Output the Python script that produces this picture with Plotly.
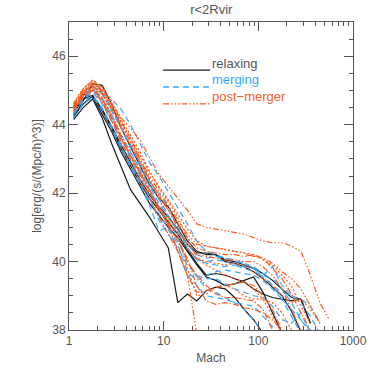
import plotly.graph_objects as go

# Mach bins (0.1 dex, centred)
mach = [1.12, 1.41, 1.78, 2.24, 2.82, 3.55, 4.47, 5.62, 7.08, 8.91, 11.2, 14.1,
        17.8, 22.4, 28.2, 35.5, 44.7, 56.2, 70.8, 89.1, 112, 141, 178, 224,
        282, 355, 447, 562]

# relaxing clusters
relax_1 = [44.2, 44.7, 45.2, 45.15, 44.6, 43.9, 43.35, 42.8, 42.25, 41.85, 41.6, 41.1,
           40.6, 40.3, 40.2, 40.2, 40.05, 40.0, 39.9, 39.8, 39.65, 39.45, 39.2, 38.95, 38.9, 38.2]
relax_2 = [44.15, 44.5, 44.75, 44.2, 43.45, 42.75, 42.1, 41.7, 41.3, 40.85, 40.4, 38.8,
           39.05, 38.85, 39.15, 39.25, 39.2, 38.95, 38.6, 38.3, 37.9]
relax_3 = [44.25, 44.6, 44.85, 44.4, 43.9, 43.3, 42.8, 42.3, 41.85, 41.5, 41.15, 40.8,
           40.35, 39.95, 39.6, 39.65, 39.6, 39.5, 39.4, 39.2, 39.05, 38.95, 38.9, 38.85, 38.9, 38.2]
relax_4 = [44.3, 44.9, 44.8, 44.3, 43.8, 43.2, 42.7, 42.2, 41.7, 41.35, 41.0, 40.7,
           40.3, 39.9, 39.55, 39.45, 39.3, 39.35, 39.45, 39.55, 39.1, 38.5, 37.9]
relax_5 = [44.35, 44.75, 44.85, 44.45, 43.95, 43.4, 42.9, 42.4, 41.95, 41.6, 41.3, 40.95,
           40.5, 40.25, 40.25, 40.2, 40.0, 39.95, 39.85, 39.7, 39.5, 39.25, 39.0, 38.55, 37.95]

# merging clusters
merg_1 = [44.4, 44.8, 45.1, 44.95, 44.5, 43.9, 43.3, 42.8, 42.2, 41.7, 41.3, 40.9, 40.5,
          40.2, 40.1, 40.15, 40.1, 40.0, 39.95, 39.85, 39.65, 39.3, 38.9, 38.4, 37.9]
merg_2 = [44.5, 44.85, 45.0, 44.95, 44.75, 44.45, 44.0, 43.45, 42.9, 42.5, 42.05, 41.6,
          41.1, 40.6, 40.3, 40.2, 40.1, 40.05, 39.95, 39.8, 39.6, 39.85, 39.3, 39.0, 38.8, 38.4, 37.9]
merg_3 = [44.35, 44.75, 44.95, 44.6, 44.1, 43.5, 43.0, 42.5, 41.9, 41.2, 40.8, 40.4, 39.9,
          39.6, 39.5, 39.5, 39.35, 39.2, 39.1, 39.0, 38.95, 38.7, 38.3, 38.2, 38.5, 37.9]
merg_4 = [44.45, 44.9, 45.05, 44.7, 44.2, 43.6, 43.05, 42.6, 42.1, 41.6, 41.2, 40.7, 40.0,
          39.55, 39.2, 39.1, 38.95, 38.8, 38.6, 38.3, 37.9]
merg_5 = [44.3, 44.7, 44.85, 44.5, 43.95, 43.35, 42.8, 42.3, 41.65, 40.9, 41.0, 40.5, 39.7,
          39.45, 39.6, 39.7, 39.75, 39.7, 39.65, 39.6, 39.45, 39.2, 38.9, 38.6, 38.3, 38.0]
merg_6 = [44.5, 44.95, 45.15, 44.9, 44.4, 43.9, 43.4, 42.9, 42.35, 41.85, 41.35, 40.9, 40.4,
          40.05, 39.95, 39.9, 39.85, 39.9, 39.85, 39.8, 39.55, 39.3, 39.1, 39.0, 38.9, 38.7, 38.2]
merg_7 = [44.2, 44.6, 44.8, 44.45, 43.9, 43.3, 42.75, 42.25, 41.75, 41.4, 40.95, 40.3, 39.6,
          39.3, 39.0, 38.95, 38.9, 38.8, 38.75, 38.7, 38.4, 38.1, 37.8]
merg_8 = [44.4, 44.8, 45.0, 44.75, 44.3, 43.7, 43.2, 42.7, 42.2, 42.0, 41.6, 41.0, 40.4,
          40.05, 40.0, 40.05, 40.0, 39.9, 39.8, 39.7, 39.6, 39.5, 39.2, 38.8, 38.3, 37.9]

# post-merger clusters
post_1 = [44.55, 44.95, 45.2, 45.0, 44.6, 44.2, 43.9, 43.55, 43.05, 42.55, 42.2, 41.85, 41.5,
          41.1, 41.0, 40.95, 40.9, 40.85, 40.8, 40.7, 40.6, 40.55, 40.55, 40.45, 40.3, 39.6, 38.8, 38.3]
post_2 = [44.5, 44.9, 45.1, 44.9, 44.5, 44.05, 43.6, 43.1, 42.6, 42.2, 41.8, 41.4, 40.95,
          40.6, 40.45, 40.4, 40.35, 40.3, 40.25, 40.2, 40.05, 39.9, 39.6, 39.3, 38.7, 38.2]
post_3 = [44.6, 45.0, 45.25, 45.0, 44.6, 44.1, 43.6, 43.0, 42.4, 41.9, 41.5, 41.1, 40.7,
          40.4, 40.3, 40.25, 40.2, 40.2, 40.15, 40.2, 40.1, 39.8, 39.5, 39.05, 38.5, 38.0]
post_4 = [44.4, 44.9, 45.1, 44.7, 44.2, 43.6, 43.1, 42.6, 42.1, 41.6, 41.05, 40.3, 39.6, 37.9]
post_5 = [44.45, 44.85, 45.05, 44.8, 44.3, 43.7, 43.2, 42.65, 42.1, 41.6, 41.2, 40.8, 39.8,
          39.0, 39.05, 39.25, 39.3, 39.2, 39.0, 38.9, 38.9, 38.8, 38.5, 38.0]
post_6 = [44.5, 44.9, 45.1, 44.75, 44.25, 43.65, 43.1, 42.55, 42.0, 41.5, 41.1, 40.6, 40.1,
          39.3, 38.85, 38.75, 38.8, 38.75, 38.65, 38.6, 38.5, 38.3, 38.0]
post_7 = [44.55, 44.95, 45.15, 44.9, 44.45, 43.9, 43.4, 42.9, 42.4, 41.95, 41.5, 41.0, 40.5,
          40.2, 40.15, 40.1, 40.05, 40.05, 40.0, 40.0, 39.85, 39.6, 39.2, 38.6, 38.0]
post_8 = [44.6, 45.05, 45.3, 45.05, 44.6, 44.0, 43.5, 42.9, 42.35, 41.8, 41.3, 40.85, 40.35,
          40.1, 40.0, 39.95, 39.9, 39.95, 39.9, 39.7, 39.5, 39.3, 39.0, 38.8, 38.9, 38.6, 38.2]
post_9 = [44.4, 44.8, 45.0, 44.7, 44.15, 43.5, 42.95, 42.4, 41.85, 41.3, 40.8, 40.3, 39.6,
          39.1, 39.15, 39.25, 39.3, 39.35, 39.4, 39.3, 39.0, 38.6, 38.0]
post_10 = [44.5, 44.95, 45.2, 44.95, 44.5, 44.0, 43.5, 43.0, 42.5, 42.05, 41.65, 41.2, 40.8,
           40.5, 40.45, 40.4, 40.35, 40.3, 40.25, 40.15, 40.1, 39.95, 39.7, 39.5, 39.2, 38.7, 38.2]
post_11 = [44.65, 45.05, 45.3, 45.1, 44.7, 44.15, 43.7, 43.2, 42.65, 42.15, 41.75, 41.3, 40.7,
           40.1, 39.9, 39.75, 39.6, 39.5, 39.4, 39.2, 38.9, 38.4, 37.9]
post_12 = [44.45, 44.85, 45.0, 44.65, 44.1, 43.6, 43.1, 42.6, 42.05, 41.55, 41.05, 40.6, 40.0,
           39.6, 39.3, 39.05, 38.95, 38.95, 38.9, 38.85, 38.6, 38.0]

relaxing = [relax_1, relax_2, relax_3, relax_4, relax_5]
merging = [merg_1, merg_2, merg_3, merg_4, merg_5, merg_6, merg_7, merg_8]
postmerger = [post_1, post_2, post_3, post_4, post_5, post_6, post_7, post_8, post_9,
              post_10, post_11, post_12]

BLACK = "#1a1a1a"
BLUE = "#35a9ff"
ORANGE = "#ff5c1f"
GREY = "#555555"

dash_dots = ["6px,2px,1.5px,2px,1.5px,2px,1.5px,2px", "2px,2px", "6px,2px,1.5px,2px"]

fig = go.Figure()
for y in relaxing:
    fig.add_trace(go.Scatter(x=mach[:len(y)], y=y, mode="lines",
                             line=dict(color=BLACK, width=1.2), showlegend=False))
for y in merging:
    fig.add_trace(go.Scatter(x=mach[:len(y)], y=y, mode="lines",
                             line=dict(color=BLUE, width=1.2, dash="6px,4px"), showlegend=False))
for i, y in enumerate(postmerger):
    fig.add_trace(go.Scatter(x=mach[:len(y)], y=y, mode="lines",
                             line=dict(color=ORANGE, width=1.2, dash=dash_dots[i % 3]),
                             showlegend=False))

# legend drawn IDL-style: line sample + label
legend = [("relaxing", BLACK, "solid", 0.844),
          ("merging", BLUE, "6px,4px", 0.789),
          ("post\u2212merger", ORANGE, dash_dots[0], 0.734)]
for label, col, dash, yy in legend:
    fig.add_shape(type="line", xref="paper", yref="paper", x0=0.331, x1=0.497, y0=yy, y1=yy,
                  line=dict(color=col, width=1.3, dash=dash))
    fig.add_annotation(text=label, xref="paper", yref="paper", x=0.497, y=yy - 0.008,
                       xanchor="left", yanchor="bottom", showarrow=False,
                       font=dict(color=GREY if col == BLACK else col, size=13))

axis_common = dict(showgrid=False, zeroline=False, showline=True, linecolor=GREY,
                   linewidth=1, mirror="ticks", ticks="inside", tickcolor=GREY,
                   tickfont=dict(size=12, color=GREY), automargin=False)

fig.update_xaxes(type="log", range=[0, 3], tickvals=[1, 10, 100, 1000],
                 ticktext=["1", "10", "100", "1000"], ticklen=9,
                 minor=dict(ticks="inside", ticklen=4, tickcolor=GREY,
                            tickvals=[2, 3, 4, 5, 6, 7, 8, 9, 20, 30, 40, 50, 60, 70, 80, 90,
                                      200, 300, 400, 500, 600, 700, 800, 900]),
                 title=dict(text="Mach", font=dict(size=12, color=GREY), standoff=6),
                 **axis_common)
fig.update_yaxes(range=[38, 47], tickvals=[38, 40, 42, 44, 46], ticklen=9,
                 minor=dict(ticks="inside", ticklen=4, tickcolor=GREY, dtick=0.5),
                 title=dict(text="log[erg/(s/(Mpc/h)^3)]", font=dict(size=12, color=GREY),
                            standoff=8),
                 **axis_common)

fig.update_layout(
    width=374, height=374,
    margin=dict(l=69, r=21, t=22, b=44),
    paper_bgcolor="white", plot_bgcolor="white",
    font=dict(family="Liberation Sans", color=GREY),
    title=dict(text="r<2Rvir", x=0.565, xanchor="center", y=0.975, yanchor="middle",
               font=dict(size=13, color=GREY)),
)

fig.write_html("out.html", config={"displayModeBar": False},
               post_script="document.body.style.margin='0';")
